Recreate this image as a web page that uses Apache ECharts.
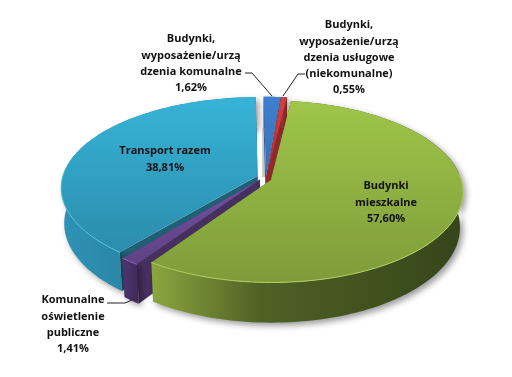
<!DOCTYPE html>
<html>
<head>
<meta charset="utf-8">
<title>Pie</title>
<style>
  html, body { margin: 0; padding: 0; background: #fff; }
  #chart { width: 512px; height: 377px; }
</style>
<script src="https://cdn.jsdelivr.net/npm/echarts@6/dist/echarts.min.js"></script>
</head>
<body>
<div id="chart"></div>
<script>
// values in the order they run clockwise round the pie
var categories = [
  'Budynki\nmieszkalne',
  'Komunalne\noświetlenie\npubliczne',
  'Transport razem',
  'Budynki,\nwyposażenie/urzą\ndzenia komunalne',
  'Budynki,\nwyposażenie/urzą\ndzenia usługowe\n(niekomunalne)'
]
var shares = [57.6, 1.41, 38.81, 1.62, 0.55]

var firstAngle = 7 // degrees clockwise from the back of the pie
var drawOrder = [2, 3, 4, 1, 0] // back to front

var cx = 261, cy = 178 // pie centre on screen
var R = 193, S = 91, k = 0.13 // projection of the unit disc
var depth = 35
var explode = [0.03, 0.035, 0.03, 0.01, 0.01]
// hand tweaks per slice, the original's 3d camera is not quite this simple
var nudgeX = [4.5, 3, 2, 5, 5]
var nudgeY = [1, -1, -1, 0, 0]
var scaleX = [0.985, 1, 1.01, 1, 1]
var scaleY = [0.98, 1, 0.98, 1, 1]
var gapShadow = [null, null, 'end', 'start', null]

var topColors = [
  ['#9fc549', '#7e9c3a'],
  ['#7350a0', '#5f4284'],
  ['#36b4d8', '#2c8cab'],
  ['#3f7fd0', '#3670b8'],
  ['#d04040', '#a83232']
]
var wallColors = [
  [[0, '#8ba63e'], [0.35, '#4f6125'], [1, '#35451a']],
  [[0, '#4e3570'], [1, '#3e2a58']],
  [[0, '#2f93b5'], [1, '#1c6c88']],
  [[0, '#2d5f9f'], [1, '#244d80']],
  [[0, '#a83030'], [1, '#7a2222']]
]
var rimColors = ['#b0cf5e', '#8a68b5', '#52c0de', '#6fa0e0', '#e07070']
var innerWall = ['#55692a', '#453060', '#1f6076', '#2a5a90', '#8e2a2a']

var labelX = [386, 73, 165, 191, 349]
var labelY = [178, 292, 143, 31, 17]
var leaders = [
  null,
  [[107, 303], [125, 303], [132, 300]],
  null,
  [[245, 73], [252, 73], [272, 96]],
  [[305, 74], [298, 74], [283, 96]]
]

function project(s, X, Y, lower) {
  var w = 1 + k * Y
  var sx = R * X / w
  var sy = -S * Y / w
  if (lower) {
    return [cx + s.nx + sx * 0.985, cy + s.ny + sy + depth / w]
  }
  return [cx + s.nx + sx, cy + s.ny + sy]
}

function sliceOf(i) {
  var total = shares.reduce(function (a, b) { return a + b }, 0)
  var before = 0
  for (var n = 0; n < i; n++) before += shares[n]
  var a0 = (firstAngle + before / total * 360) * Math.PI / 180
  var a1 = (firstAngle + (before + shares[i]) / total * 360) * Math.PI / 180
  var mid = (a0 + a1) / 2
  return {
    a0: a0, a1: a1,
    ox: explode[i] * Math.sin(mid),
    oy: explode[i] * Math.cos(mid),
    nx: nudgeX[i], ny: nudgeY[i], kx: scaleX[i], ky: scaleY[i]
  }
}

function rimPoint(s, a, lower) {
  return project(s, s.ox + s.kx * Math.sin(a), s.oy + s.ky * Math.cos(a), lower)
}

function arcPoints(s, lower) {
  var steps = Math.max(4, Math.ceil((s.a1 - s.a0) / 0.03))
  var pts = []
  for (var n = 0; n <= steps; n++) {
    pts.push(rimPoint(s, s.a0 + (s.a1 - s.a0) * n / steps, lower))
  }
  return pts
}

// only the near half of the top edge catches the light
function frontRim(s) {
  var steps = Math.max(4, Math.ceil((s.a1 - s.a0) / 0.03))
  var pts = []
  for (var n = 0; n <= steps; n++) {
    var a = s.a0 + (s.a1 - s.a0) * n / steps
    if (Math.cos(a) < 0.1) pts.push(rimPoint(s, a, false))
  }
  return pts
}

function grad(stops, horizontal) {
  return {
    type: 'linear', x: 0, y: 0, x2: horizontal ? 1 : 0, y2: horizontal ? 0 : 1,
    colorStops: stops.map(function (p) { return { offset: p[0], color: p[1] } })
  }
}

function renderSlice(params, api) {
  var i = api.value(0)
  var s = sliceOf(i)
  var top = arcPoints(s, false)
  var low = arcPoints(s, true)
  var apexT = project(s, s.ox, s.oy, false)
  var apexL = project(s, s.ox, s.oy, true)
  var last = top.length - 1
  var wall = top.concat(low.slice().reverse())
  var children = []
  if (gapShadow[i]) {
    var p = gapShadow[i] === 'end' ? low[last] : low[0]
    children.push({
      type: 'polyline', shape: { points: [p, [p[0], apexT[1]]] },
      style: { fill: 'none', stroke: '#c6c6c6', lineWidth: 3 }
    })
  }
  children.push(
    {
      type: 'polygon', shape: { points: [apexT, top[0], low[0], apexL] },
      style: { fill: innerWall[i] }
    },
    {
      type: 'polygon', shape: { points: [apexT, top[last], low[last], apexL] },
      style: { fill: innerWall[i] }
    },
    {
      type: 'polygon', shape: { points: wall },
      style: {
        fill: grad(wallColors[i], true),
        shadowBlur: 6, shadowColor: 'rgba(0,0,0,0.4)', shadowOffsetX: 3, shadowOffsetY: 3
      }
    },
    {
      type: 'polygon', shape: { points: [apexT].concat(top) },
      style: { fill: grad([[0, topColors[i][0]], [1, topColors[i][1]]], false) }
    }
  )
  var rim = frontRim(s)
  if (rim.length > 1) {
    children.push({
      type: 'polyline', shape: { points: rim },
      style: { fill: 'none', stroke: rimColors[i], lineWidth: 1 }
    })
  }
  return { type: 'group', children: children }
}

var labelGraphics = []
categories.forEach(function (name, i) {
  labelGraphics.push({
    type: 'text', x: labelX[i], y: labelY[i], z: 10,
    style: {
      text: name + '\n' + shares[i].toFixed(2).replace('.', ',') + '%',
      font: 'bold 11px "Open Sans", sans-serif',
      lineHeight: 16.3, align: 'center', verticalAlign: 'top',
      fill: '#111'
    }
  })
  if (leaders[i]) {
    labelGraphics.push({
      type: 'polyline', z: 10, shape: { points: leaders[i] },
      style: { fill: 'none', stroke: '#222', lineWidth: 1 }
    })
  }
})

var chart = echarts.init(document.getElementById('chart'))
chart.setOption({
  animation: false,
  backgroundColor: '#fff',
  graphic: labelGraphics,
  series: [{
    type: 'custom',
    coordinateSystem: 'none',
    silent: true,
    renderItem: renderSlice,
    data: drawOrder.map(function (i) { return [i, shares[i]] })
  }]
})
</script>
</body>
</html>
